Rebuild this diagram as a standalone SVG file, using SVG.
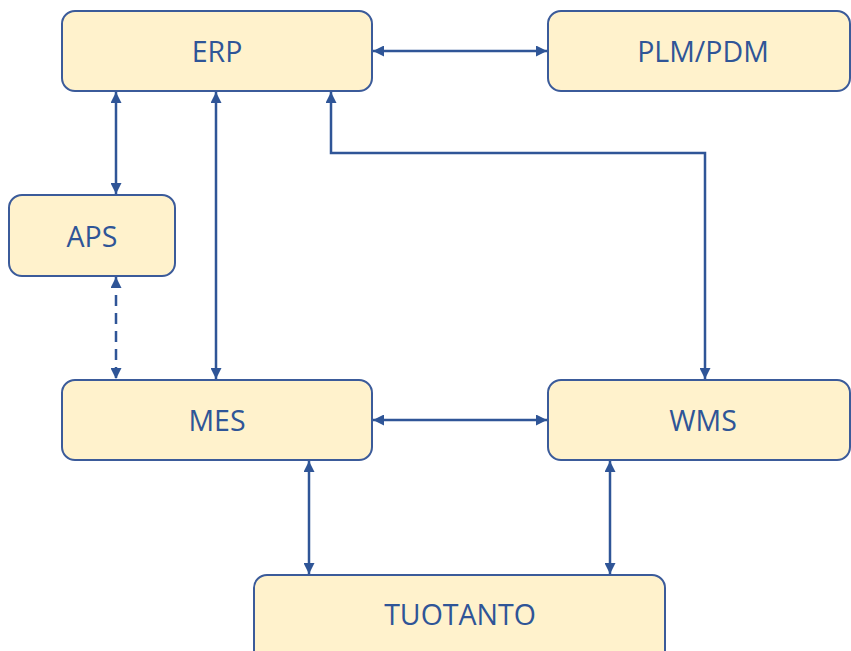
<svg xmlns="http://www.w3.org/2000/svg" width="851" height="651" viewBox="0 0 851 651">
  <style>
    .box { fill: #FFF2CC; stroke: #3B5B9A; stroke-width: 2; }
    .lbl { font-family: "Open Sans", "Liberation Sans", sans-serif; font-size: 28.5px; fill: #2F5597; text-anchor: middle; dominant-baseline: central; }
    .link { fill: none; stroke: #2F5597; stroke-width: 2.5; marker-start: url(#arr); marker-end: url(#arr); }
    .dash { stroke-dasharray: 11 7; }
  </style>
  <defs>
    <marker id="arr" viewBox="0 0 10 10" refX="10" refY="5" markerWidth="11" markerHeight="11" markerUnits="userSpaceOnUse" orient="auto-start-reverse">
      <path d="M0,0 L10,5 L0,10 Z" fill="#2F5597"/>
    </marker>
  </defs>

  <g id="connectors">
    <path class="link" d="M373,51 H547"/>
    <path class="link" d="M116,92 V194"/>
    <path class="link" d="M216,92 V379"/>
    <path class="link" d="M331,92 V153 H705 V379"/>
    <path class="link dash" d="M116,277 V379"/>
    <path class="link" d="M373,420 H547"/>
    <path class="link" d="M309,461 V574"/>
    <path class="link" d="M610,461 V574"/>
  </g>

  <g id="erp">
    <rect class="box" x="62" y="11" width="310" height="80" rx="13"/>
    <text class="lbl" x="217" y="51">ERP</text>
  </g>
  <g id="plm">
    <rect class="box" x="548" y="11" width="302" height="80" rx="13"/>
    <text class="lbl" x="703" y="51">PLM/PDM</text>
  </g>
  <g id="aps">
    <rect class="box" x="9" y="195" width="166" height="81" rx="13"/>
    <text class="lbl" x="92" y="236">APS</text>
  </g>
  <g id="mes">
    <rect class="box" x="62" y="380" width="310" height="80" rx="13"/>
    <text class="lbl" x="217" y="420">MES</text>
  </g>
  <g id="wms">
    <rect class="box" x="548" y="380" width="302" height="80" rx="13"/>
    <text class="lbl" x="703" y="420">WMS</text>
  </g>
  <g id="tuotanto">
    <rect class="box" x="254" y="575" width="411" height="90" rx="13"/>
    <text class="lbl" x="460" y="614">TUOTANTO</text>
  </g>
</svg>
